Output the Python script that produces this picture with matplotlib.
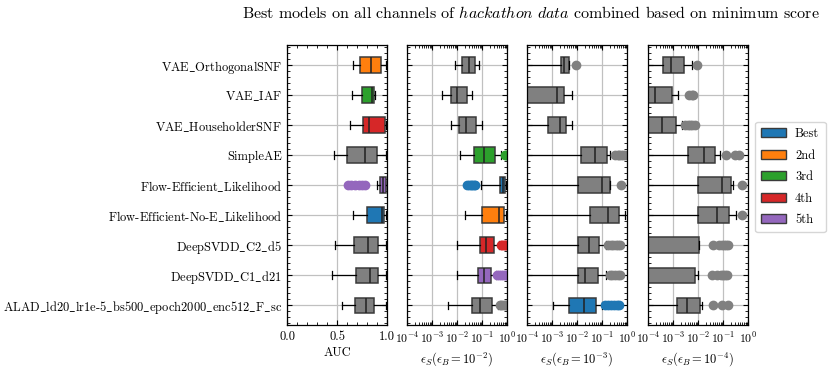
import matplotlib
matplotlib.use("Agg")
import matplotlib.pyplot as plt
from matplotlib.ticker import MultipleLocator, LogLocator, NullFormatter, FixedLocator
from matplotlib.patches import Patch

plt.rcParams.update({
    "font.family": "serif",
    "font.serif": ["cmr10", "DejaVu Serif"],
    "mathtext.fontset": "cm",
    "axes.formatter.use_mathtext": True,
    "axes.unicode_minus": False,
    "font.size": 9,
})

models = ["VAE_OrthogonalSNF", "VAE_IAF", "VAE_HouseholderSNF", "SimpleAE",
          "Flow-Efficient_Likelihood", "Flow-Efficient-No-E_Likelihood",
          "DeepSVDD_C2_d5", "DeepSVDD_C1_d21",
          "ALAD_ld20_lr1e-5_bs500_epoch2000_enc512_F_sc"]

rank_colors = {"Best": "#1f77b4", "2nd": "#ff7f0e", "3rd": "#2ca02c",
               "4th": "#d62728", "5th": "#9467bd"}
legend_labels = ["Best", "2nd", "3rd", "4th", "5th"]

# Panel 1: AUC
auc_lo  = [0.663, 0.653, 0.633, 0.473, 0.903, 0.663, 0.477, 0.453, 0.553]
auc_q1  = [0.730, 0.750, 0.760, 0.603, 0.933, 0.800, 0.670, 0.690, 0.683]
auc_med = [0.843, 0.850, 0.820, 0.783, 0.960, 0.953, 0.813, 0.833, 0.787]
auc_q3  = [0.937, 0.870, 0.980, 0.903, 0.993, 0.973, 0.910, 0.910, 0.867]
auc_hi  = [0.987, 0.883, 0.987, 0.993, 0.997, 0.993, 0.993, 0.993, 0.987]
auc_fl  = [[], [], [], [], [0.61, 0.64, 0.68, 0.72, 0.75, 0.78], [], [], [], []]
auc_rank = ["2nd", "3rd", "4th", None, "5th", "Best", None, None, None]

# Panel 2: eps_S(eps_B = 1e-2)
e2_lo  = [0.0081, 0.00259, 0.00575, 0.0136, 0.094, 0.0203, 0.0103, 0.0103, 0.00424]
e2_q1  = [0.0158, 0.00558, 0.0120, 0.0479, 0.54, 0.103, 0.083, 0.0713, 0.041]
e2_med = [0.0293, 0.0103, 0.0236, 0.120, 0.67, 0.479, 0.145, 0.124, 0.0857]
e2_q3  = [0.0509, 0.0244, 0.0575, 0.341, 0.857, 0.759, 0.311, 0.229, 0.251]
e2_hi  = [0.0759, 0.041, 0.097, 0.60, 0.94, 0.94, 0.465, 0.374, 0.45]
e2_fl  = [[], [], [], [0.82, 0.9],
          [0.026, 0.03, 0.035, 0.04, 0.046, 0.051], [],
          [0.56, 0.65, 0.75, 0.85, 0.94],
          [0.41, 0.5, 0.6, 0.7, 0.8, 0.94],
          [0.51, 0.6, 0.7, 0.8, 0.94]]
e2_rank = [None, None, None, "3rd", "Best", "2nd", "4th", "5th", None]

# Panel 3: eps_S(eps_B = 1e-3)  (1e-5 stands for values below the axis)
e3_lo  = [1e-5, 1e-5, 1e-5, 1e-5, 1e-5, 1e-5, 1e-5, 1e-5, 0.00113]
e3_q1  = [0.00229, 1e-5, 0.000692, 0.014, 0.0106, 0.0341, 0.0106, 0.0106, 0.00479]
e3_med = [0.00311, 0.00154, 0.00203, 0.054, 0.10, 0.169, 0.0311, 0.0209, 0.0185]
e3_q3  = [0.00479, 0.00302, 0.00352, 0.158, 0.209, 0.479, 0.0759, 0.0713, 0.0593]
e3_hi  = [0.00479, 0.00612, 0.0065, 0.215, 0.209, 0.83, 0.14, 0.149, 0.10]
e3_fl  = [[0.0094], [], [], [0.34, 0.42, 0.5, 0.6, 0.7, 0.85], [0.56], [],
          [0.18, 0.22, 0.28, 0.35, 0.43, 0.51],
          [0.2, 0.26, 0.33, 0.42, 0.51],
          [0.128, 0.17, 0.22, 0.3, 0.4, 0.5]]
e3_rank = [None, None, None, None, None, None, None, None, "Best"]

# Panel 4: eps_S(eps_B = 1e-4)
e4_lo  = [1e-5] * 9
e4_q1  = [0.000386, 1e-5, 1e-5, 0.0041, 0.0103, 0.0103, 1e-5, 1e-5, 0.00145]
e4_med = [0.000807, 0.000196, 0.000374, 0.0179, 0.094, 0.0575, 1e-5, 1e-5, 0.00354]
e4_q3  = [0.00275, 0.00094, 0.00128, 0.0493, 0.203, 0.169, 0.0106, 0.00782, 0.0124]
e4_hi  = [0.00575, 0.00158, 0.00229, 0.0759, 0.24, 0.331, 0.0106, 0.0097, 0.0149]
e4_fl  = [[0.0094], [0.0043, 0.0055, 0.0065], [0.003, 0.004, 0.005, 0.006, 0.0075],
          [0.13, 0.3, 0.44], [0.56], [0.56],
          [0.039, 0.07, 0.09, 0.11, 0.13, 0.16],
          [0.035, 0.06, 0.08, 0.1, 0.12, 0.14],
          [0.039, 0.089, 0.154]]
e4_rank = [None] * 9

xlabels = ["AUC", r"$\epsilon_S(\epsilon_B=10^{-2})$",
           r"$\epsilon_S(\epsilon_B=10^{-3})$", r"$\epsilon_S(\epsilon_B=10^{-4})$"]

panels = [
    (auc_lo, auc_q1, auc_med, auc_q3, auc_hi, auc_fl, auc_rank),
    (e2_lo, e2_q1, e2_med, e2_q3, e2_hi, e2_fl, e2_rank),
    (e3_lo, e3_q1, e3_med, e3_q3, e3_hi, e3_fl, e3_rank),
    (e4_lo, e4_q1, e4_med, e4_q3, e4_hi, e4_fl, e4_rank),
]


def tex_label(name):
    # cmr10 has no underscore glyph: render the underscores via mathtext
    return name.replace("_", r"$\_$")


GRAY = "#808080"
fig = plt.figure(figsize=(8.3, 3.68), dpi=100)
lefts = [287, 407, 527, 648]
bottom = 1 - 325 / 368
height = (325 - 44.7) / 368
axes = [fig.add_axes([l / 830, bottom, 100 / 830, height]) for l in lefts]

for i, (ax, (lo, q1, med, q3, hi, fl, rank)) in enumerate(zip(axes, panels)):
    ax.set_axisbelow(True)
    if i > 0:
        ax.set_xscale("log")
    ax.grid(True, color="#c0c0c0", linewidth=0.9)
    for j in range(len(models)):
        color = rank_colors[rank[j]] if rank[j] else GRAY
        stats = [dict(med=med[j], q1=q1[j], q3=q3[j], whislo=lo[j], whishi=hi[j],
                      fliers=fl[j])]
        ax.bxp(stats, positions=[j], widths=0.52, vert=False, patch_artist=True,
               boxprops=dict(facecolor=color, edgecolor="#3a3a3a", linewidth=1.1),
               medianprops=dict(color="#222222", linewidth=1.1),
               whiskerprops=dict(color="black", linewidth=0.9),
               capprops=dict(color="black", linewidth=0.9),
               flierprops=dict(marker="o", markerfacecolor=color, markeredgecolor=color,
                               markersize=6))
    ax.set_ylim(8.65, -0.67)
    ax.set_yticks(range(len(models)))
    ax.yaxis.set_minor_locator(MultipleLocator(0.2))
    if i == 0:
        ax.set_yticklabels([tex_label(m) for m in models])
        ax.set_xlim(0, 1)
        ax.set_xticks([0, 0.5, 1.0])
        ax.set_xticklabels(["0.0", "0.5", "1.0"])
        ax.xaxis.set_minor_locator(MultipleLocator(0.1))
    else:
        ax.set_yticklabels([])
        ax.set_xlim(1e-4, 1)
        ax.xaxis.set_major_locator(FixedLocator([1e-4, 1e-3, 1e-2, 1e-1, 1]))
        ax.xaxis.set_minor_locator(LogLocator(base=10, subs=range(2, 10), numticks=20))
        ax.xaxis.set_minor_formatter(NullFormatter())
        ax.tick_params(axis="x", labelsize=8.5)
    ax.tick_params(which="both", direction="in", top=True, right=True)
    ax.tick_params(which="major", length=3.5, width=0.8)
    ax.tick_params(which="minor", length=2, width=0.6)
    ax.tick_params(axis="x", pad=4)
    ax.set_xlabel(xlabels[i], labelpad=3)
    for s in ax.spines.values():
        s.set_linewidth(0.9)

handles = [Patch(facecolor=rank_colors[k], edgecolor="#3a3a3a", label=k) for k in legend_labels]
fig.legend(handles=handles, loc="center left", bbox_to_anchor=(755 / 830, 1 - 177 / 368),
           borderaxespad=0, frameon=True, handlelength=2.0, handletextpad=0.7,
           borderpad=0.5, labelspacing=0.75)

fig.text(0.64, 0.965, r"Best models on all channels of $\mathit{hackathon\ data}$ combined based on minimum score",
         ha="center", va="center", fontsize=11.5)

fig.savefig("out.png", dpi=100)
